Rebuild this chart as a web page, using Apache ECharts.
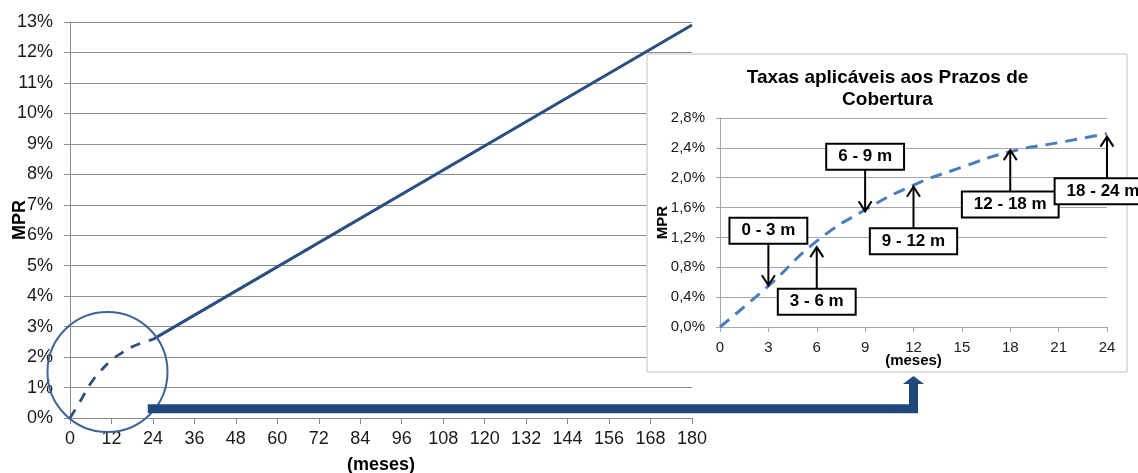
<!DOCTYPE html>
<html><head><meta charset="utf-8">
<script src="https://cdn.jsdelivr.net/npm/echarts/dist/echarts.min.js"></script>
<style>html,body{margin:0;padding:0;background:#fff}#c{width:1138px;height:473px}</style>
</head><body><div id="c"></div>
<script>
// ---- data ----
const curveMonths = [0, 3, 6, 9, 12, 15, 18, 21, 24];
const curveValues = [0, 0.56, 1.14, 1.56, 1.9, 2.14, 2.34, 2.47, 2.58];
const linearMonths = [24, 180];
const linearValues = [2.58, 12.9];
const insetMonths = [0, 3, 6, 9, 12, 15, 18, 21, 24];
const insetValues = [0, 0.55, 1.15, 1.57, 1.9, 2.14, 2.35, 2.47, 2.59];
const annotLabels = ['0 - 3 m', '3 - 6 m', '6 - 9 m', '9 - 12 m', '12 - 18 m', '18 - 24 m'];
const annotMonths = [3, 6, 9, 12, 18, 24];
const annotValues = [0.56, 1.07, 1.55, 1.88, 2.37, 2.55];
const annotDirections = ['down', 'up', 'down', 'up', 'up', 'up'];
const insetTitle = 'Taxas aplicáveis aos Prazos de\nCobertura';
const xName = '(meses)';
const yName = 'MPR';

// ---- chart ----
const FONT = '"Liberation Sans", Arial, sans-serif';
const chart = echarts.init(document.getElementById('c'), null, {renderer: 'canvas'});
const zip = (a, b) => a.map((v, i) => [v, b[i]]);
const gridGray = '#8c8c8c';

chart.setOption({
  animation: false,
  backgroundColor: '#fff',
  grid: [
    {left: 70, top: 22, width: 622, height: 396, outerBoundsMode: 'none', containLabel: false},
    {left: 720, top: 118, width: 387, height: 209, outerBoundsMode: 'none', containLabel: false}
  ],
  xAxis: [
    {gridIndex: 0, type: 'value', min: 0, max: 180, interval: 12, z: 0,
     axisLine: {lineStyle: {color: gridGray, width: 1}},
     axisTick: {show: true, length: 6, lineStyle: {color: gridGray}},
     axisLabel: {fontSize: 18, color: '#1a1a1a', margin: 12, fontFamily: FONT},
     splitLine: {show: false},
     name: xName, nameLocation: 'middle', nameGap: 38, nameMoveOverlap: false,
     nameTextStyle: {fontSize: 18, fontWeight: 'bold', color: '#000', fontFamily: FONT}},
    {gridIndex: 1, type: 'value', min: 0, max: 24, interval: 3, z: 3,
     axisLine: {lineStyle: {color: '#a6a6a6', width: 1}},
     axisTick: {show: true, length: 5, lineStyle: {color: '#a6a6a6'}},
     axisLabel: {fontSize: 15, color: '#1a1a1a', margin: 13, fontFamily: FONT},
     splitLine: {show: false},
     name: xName, nameLocation: 'middle', nameGap: 26, nameMoveOverlap: false,
     nameTextStyle: {fontSize: 15, fontWeight: 'bold', color: '#000', fontFamily: FONT}}
  ],
  yAxis: [
    {gridIndex: 0, type: 'value', min: 0, max: 13, interval: 1, z: 0,
     axisLine: {show: true, lineStyle: {color: gridGray, width: 1}},
     axisTick: {show: true, length: 6, lineStyle: {color: gridGray}},
     axisLabel: {fontSize: 18, color: '#1a1a1a', margin: 17, fontFamily: FONT, formatter: '{value}%'},
     splitLine: {show: true, lineStyle: {color: gridGray, width: 1}},
     name: yName, nameLocation: 'middle', nameGap: 41, nameRotate: 90, nameMoveOverlap: false,
     nameTextStyle: {fontSize: 18, fontWeight: 'bold', color: '#000', fontFamily: FONT}},
    {gridIndex: 1, type: 'value', min: 0, max: 2.8, interval: 0.4, z: 3,
     axisLine: {show: true, lineStyle: {color: '#a6a6a6', width: 1}},
     axisTick: {show: true, length: 4, lineStyle: {color: '#a6a6a6'}},
     axisLabel: {fontSize: 15, color: '#1a1a1a', margin: 15, fontFamily: FONT,
       formatter: v => v.toFixed(1).replace('.', ',') + '%'},
     splitLine: {show: true, lineStyle: {color: '#a6a6a6', width: 1}},
     name: yName, nameLocation: 'middle', nameGap: 50, nameRotate: 90, nameMoveOverlap: false,
     nameTextStyle: {fontSize: 15, fontWeight: 'bold', color: '#000', fontFamily: FONT}}
  ],
  series: [
    {type: 'line', xAxisIndex: 0, yAxisIndex: 0, data: zip(curveMonths, curveValues), smooth: true,
     symbol: 'none', z: 2, lineStyle: {color: '#28507f', width: 2.8, type: [10, 9]}},
    {type: 'line', xAxisIndex: 0, yAxisIndex: 0, data: zip(linearMonths, linearValues),
     symbol: 'none', z: 2, lineStyle: {color: '#28507f', width: 3}},
    {type: 'line', xAxisIndex: 1, yAxisIndex: 1, data: zip(insetMonths, insetValues), smooth: true,
     symbol: 'none', z: 4, lineStyle: {color: '#4a7ebb', width: 3, type: [12, 8]}}
  ]
});

// ---- decorations built from axis coordinates ----
const P0 = (x, y) => chart.convertToPixel({xAxisIndex: 0, yAxisIndex: 0}, [x, y]);
const P1 = (x, y) => chart.convertToPixel({xAxisIndex: 1, yAxisIndex: 1}, [x, y]);
const els = [];

// inset frame
const i0 = P1(0, 0), i1 = P1(24, 2.8);
els.push({type: 'rect', z: 1, shape: {x: i0[0] - 73, y: i1[1] - 64, width: (i1[0] - i0[0]) + 93, height: (i0[1] - i1[1]) + 109},
  style: {fill: '#fff', stroke: '#c3c3c3', lineWidth: 1}});
// inset title
els.push({type: 'text', z: 6, style: {text: insetTitle, x: (i0[0] + i1[0]) / 2 - 26, y: i1[1] - 51, align: 'center', verticalAlign: 'top',
  font: 'bold 19px ' + FONT, fill: '#000', lineHeight: 22}});

// magnifier circle
const cc = P0(10.85, 1.51);
els.push({type: 'circle', z: 5, shape: {cx: cc[0], cy: cc[1], r: 60},
  style: {fill: 'none', stroke: '#3f6496', lineWidth: 2}});

// big connector arrow
const bs = P0(22.5, 0.3);
const tipX = P1(12, 0)[0];
const barTop = bs[1] - 4.5, barBot = bs[1] + 4.5;
const headBase = i0[1] + 57, headTip = i0[1] + 49;
els.push({type: 'polygon', z: 5, shape: {points: [
  [bs[0], barTop], [tipX - 4.5, barTop], [tipX - 4.5, headBase], [tipX - 10.5, headBase],
  [tipX, headTip], [tipX + 10.5, headBase], [tipX + 4.5, headBase], [tipX + 4.5, barBot], [bs[0], barBot]]},
  style: {fill: '#1f497d'}});

// inset annotations
const L = 42, H = 25;
annotLabels.forEach((lab, i) => {
  const t = P1(annotMonths[i], annotValues[i]);
  const down = annotDirections[i] === 'down';
  const sy = down ? t[1] - L : t[1] + L;
  const d = down ? -10 : 10;
  els.push({type: 'line', z: 7, shape: {x1: t[0], y1: sy, x2: t[0], y2: t[1]}, style: {stroke: '#000', lineWidth: 2}});
  els.push({type: 'polyline', z: 7, shape: {points: [[t[0] - 6.5, t[1] + d], [t[0], t[1]], [t[0] + 6.5, t[1] + d]]},
    style: {stroke: '#000', lineWidth: 2, fill: 'none'}});
  const cy = down ? sy - H / 2 : sy + H / 2;
  const dx = (i === annotLabels.length - 1) ? -4 : 0;
  els.push({type: 'text', z: 8, style: {text: lab, x: t[0] + dx, y: cy, align: 'center', verticalAlign: 'middle',
    font: 'bold 17px ' + FONT, fill: '#000', backgroundColor: '#fff', borderColor: '#000', borderWidth: 2,
    padding: [3, 11], lineHeight: 18}});
});

chart.setOption({graphic: {elements: els}});
</script>
</body></html>
